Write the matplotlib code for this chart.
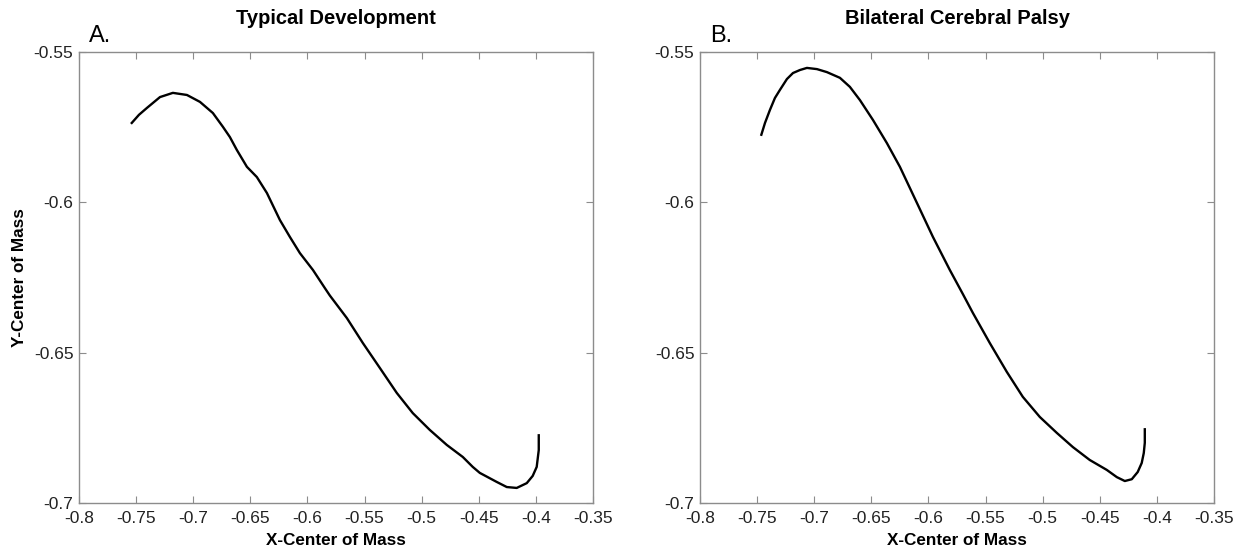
import matplotlib
matplotlib.use("Agg")
import matplotlib.pyplot as plt

plt.rcParams['font.family'] = ['Liberation Sans', 'DejaVu Sans']

# Centre-of-mass trajectories (x, y)
td_x = [-0.7545, -0.7475, -0.7405, -0.7291, -0.7178, -0.7055, -0.6941, -0.6828,
        -0.6740, -0.6679, -0.6618, -0.6530, -0.6443, -0.6355, -0.6241, -0.6154,
        -0.6066, -0.5952, -0.5848, -0.5804, -0.5655, -0.5515, -0.5366, -0.5218,
        -0.5078, -0.4929, -0.4780, -0.4640, -0.4553, -0.4491, -0.4343, -0.4255,
        -0.4168, -0.4080, -0.4028, -0.3993, -0.3975, -0.3975]
td_y = [-0.5739, -0.5709, -0.5686, -0.5650, -0.5636, -0.5643, -0.5666, -0.5703,
        -0.5749, -0.5783, -0.5826, -0.5882, -0.5916, -0.5969, -0.6059, -0.6115,
        -0.6169, -0.6225, -0.6285, -0.6310, -0.6385, -0.6468, -0.6551, -0.6634,
        -0.6701, -0.6757, -0.6807, -0.6847, -0.6880, -0.6900, -0.6930, -0.6947,
        -0.6950, -0.6934, -0.6910, -0.6880, -0.6824, -0.6771]

cp_x = [-0.7466, -0.7431, -0.7388, -0.7344, -0.7300, -0.7239, -0.7186, -0.7125,
        -0.7064, -0.6976, -0.6889, -0.6775, -0.6688, -0.6600, -0.6486, -0.6364,
        -0.6250, -0.6101, -0.5961, -0.5813, -0.5699, -0.5611, -0.5463, -0.5314,
        -0.5174, -0.5025, -0.4876, -0.4736, -0.4588, -0.4439, -0.4351, -0.4281,
        -0.4220, -0.4168, -0.4133, -0.4115, -0.4106, -0.4106]
cp_y = [-0.5779, -0.5736, -0.5693, -0.5653, -0.5626, -0.5590, -0.5570, -0.5560,
        -0.5553, -0.5557, -0.5567, -0.5586, -0.5616, -0.5660, -0.5726, -0.5803,
        -0.5882, -0.6002, -0.6115, -0.6225, -0.6305, -0.6368, -0.6468, -0.6564,
        -0.6647, -0.6714, -0.6767, -0.6814, -0.6857, -0.6890, -0.6914, -0.6927,
        -0.6921, -0.6897, -0.6867, -0.6834, -0.6800, -0.6751]

x_ticks = [-0.8, -0.75, -0.7, -0.65, -0.6, -0.55, -0.5, -0.45, -0.4, -0.35]
x_tick_labels = ['-0.8', '-0.75', '-0.7', '-0.65', '-0.6', '-0.55', '-0.5', '-0.45', '-0.4', '-0.35']
y_ticks = [-0.7, -0.65, -0.6, -0.55]
y_tick_labels = ['-0.7', '-0.65', '-0.6', '-0.55']

titles = ['Typical Development', 'Bilateral Cerebral Palsy']
panel_tags = ['A.', 'B.']

fig = plt.figure(figsize=(12.44, 5.5), dpi=100)
ax_a = fig.add_axes([0.0635, 0.0855, 0.4132, 0.82])
ax_b = fig.add_axes([0.5627, 0.0855, 0.4132, 0.82])

spine_col = '#8c8c8c'
for ax, xs, ys, title, tag in [(ax_a, td_x, td_y, titles[0], panel_tags[0]),
                               (ax_b, cp_x, cp_y, titles[1], panel_tags[1])]:
    ax.plot(xs, ys, color='black', lw=1.7, solid_joinstyle='round',
            solid_capstyle='butt')
    ax.set_xlim(-0.8, -0.35)
    ax.set_ylim(-0.7, -0.55)
    ax.set_xticks(x_ticks)
    ax.set_xticklabels(x_tick_labels)
    ax.set_yticks(y_ticks)
    ax.set_yticklabels(y_tick_labels)
    ax.tick_params(direction='in', length=5, width=0.8, color=spine_col,
                   top=True, right=True, labelsize=12.5, labelcolor='#222222', pad=4)
    ax.tick_params(axis='x', pad=6)
    for s in ax.spines.values():
        s.set_color(spine_col)
        s.set_linewidth(1.0)
    ax.set_xlabel('X-Center of Mass', fontsize=12.3, fontweight='bold', labelpad=5)
    ax.set_title(title, fontsize=14.5, fontweight='bold', pad=20)
    ax.text(0.02, 1.012, tag, transform=ax.transAxes, fontsize=17,
            ha='left', va='bottom')

ax_a.set_ylabel('Y-Center of Mass', fontsize=12.3, fontweight='bold', labelpad=5)

fig.savefig('out.png', dpi=100, facecolor='white')
